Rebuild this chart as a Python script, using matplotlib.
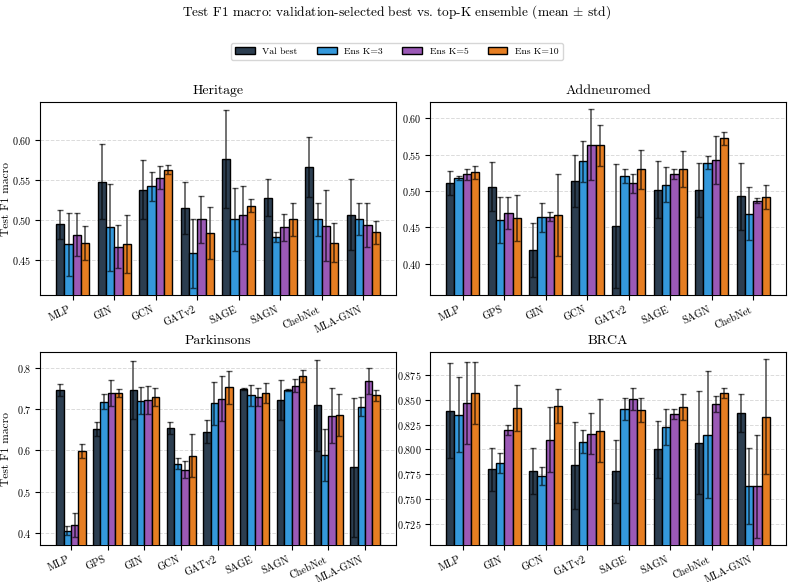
import matplotlib
matplotlib.use("Agg")
import matplotlib.pyplot as plt
import numpy as np

plt.rcParams['font.family'] = ['cmr10', 'DejaVu Serif']
plt.rcParams['mathtext.fontset'] = 'cm'
plt.rcParams['axes.formatter.use_mathtext'] = True

series = ["Val best", "Ens K=3", "Ens K=5", "Ens K=10"]
colors = ["#2c3e50", "#3498db", "#9b59b6", "#e67e22"]

# Heritage
her_models = ["MLP", "GIN", "GCN", "GATv2", "SAGE", "SAGN", "ChebNet", "MLA-GNN"]
her_mean = [
    [0.495, 0.548, 0.538, 0.515, 0.576, 0.528, 0.566, 0.507],
    [0.470, 0.491, 0.542, 0.459, 0.501, 0.479, 0.501, 0.502],
    [0.482, 0.467, 0.553, 0.501, 0.507, 0.491, 0.493, 0.494],
    [0.472, 0.470, 0.563, 0.484, 0.518, 0.501, 0.472, 0.485],
]
her_std = [
    [0.018, 0.047, 0.037, 0.032, 0.061, 0.023, 0.037, 0.044],
    [0.039, 0.054, 0.018, 0.043, 0.039, 0.006, 0.021, 0.020],
    [0.027, 0.027, 0.014, 0.029, 0.036, 0.017, 0.044, 0.027],
    [0.021, 0.036, 0.006, 0.032, 0.008, 0.021, 0.024, 0.014],
]

# Addneuromed
add_models = ["MLP", "GPS", "GIN", "GCN", "GATv2", "SAGE", "SAGN", "ChebNet"]
add_mean = [
    [0.511, 0.506, 0.419, 0.514, 0.452, 0.502, 0.501, 0.493],
    [0.518, 0.460, 0.464, 0.541, 0.521, 0.509, 0.539, 0.469],
    [0.523, 0.470, 0.465, 0.564, 0.511, 0.523, 0.543, 0.487],
    [0.526, 0.463, 0.467, 0.563, 0.530, 0.530, 0.573, 0.492],
]
add_std = [
    [0.016, 0.034, 0.037, 0.036, 0.085, 0.039, 0.037, 0.046],
    [0.003, 0.032, 0.020, 0.028, 0.010, 0.024, 0.009, 0.036],
    [0.008, 0.022, 0.006, 0.049, 0.013, 0.007, 0.033, 0.004],
    [0.009, 0.031, 0.056, 0.028, 0.027, 0.025, 0.009, 0.016],
]

# Parkinsons
par_models = ["MLP", "GPS", "GIN", "GCN", "GATv2", "SAGE", "SAGN", "ChebNet", "MLA-GNN"]
par_mean = [
    [0.747, 0.653, 0.747, 0.655, 0.646, 0.749, 0.723, 0.710, 0.559],
    [0.405, 0.719, 0.721, 0.568, 0.715, 0.734, 0.747, 0.588, 0.706],
    [0.419, 0.740, 0.723, 0.553, 0.726, 0.731, 0.758, 0.685, 0.769],
    [0.599, 0.739, 0.730, 0.587, 0.754, 0.739, 0.781, 0.686, 0.734],
]
par_std = [
    [0.014, 0.017, 0.070, 0.015, 0.027, 0.003, 0.048, 0.111, 0.169],
    [0.011, 0.019, 0.033, 0.014, 0.052, 0.026, 0.003, 0.063, 0.023],
    [0.030, 0.031, 0.035, 0.021, 0.055, 0.022, 0.015, 0.068, 0.032],
    [0.017, 0.010, 0.021, 0.052, 0.040, 0.024, 0.015, 0.052, 0.013],
]

# BRCA
brca_models = ["MLP", "GIN", "GCN", "GATv2", "SAGE", "SAGN", "ChebNet", "MLA-GNN"]
brca_mean = [
    [0.839, 0.780, 0.778, 0.784, 0.778, 0.800, 0.807, 0.837],
    [0.835, 0.786, 0.773, 0.808, 0.841, 0.823, 0.815, 0.763],
    [0.847, 0.820, 0.810, 0.816, 0.851, 0.836, 0.846, 0.763],
    [0.857, 0.842, 0.844, 0.819, 0.840, 0.843, 0.857, 0.833],
]
brca_std = [
    [0.048, 0.022, 0.023, 0.044, 0.032, 0.029, 0.052, 0.019],
    [0.038, 0.010, 0.009, 0.012, 0.011, 0.018, 0.064, 0.038],
    [0.041, 0.005, 0.033, 0.021, 0.011, 0.005, 0.008, 0.052],
    [0.031, 0.023, 0.017, 0.032, 0.012, 0.013, 0.005, 0.058],
]

panels = [
    ("Heritage", her_models, her_mean, her_std, (0.407, 0.647)),
    ("Addneuromed", add_models, add_mean, add_std, (0.357, 0.6226)),
    ("Parkinsons", par_models, par_mean, par_std, (0.370, 0.8395)),
    ("BRCA", brca_models, brca_mean, brca_std, (0.7043, 0.8977)),
]

fig = plt.figure(figsize=(7.94, 5.82), dpi=100)
W = 356 / 794
H = 193 / 582
positions = [
    (40 / 794, 1 - 295 / 582),
    (430 / 794, 1 - 295 / 582),
    (40 / 794, 1 - 545 / 582),
    (430 / 794, 1 - 545 / 582),
]

width = 0.2
handles = None
for idx, (name, models, means, stds, ylim) in enumerate(panels):
    ax = fig.add_axes([positions[idx][0], positions[idx][1], W, H])
    x = np.arange(len(models))
    hs = []
    for s in range(4):
        offs = (s - 1.5) * width
        b = ax.bar(x + offs, means[s], width, yerr=stds[s], color=colors[s],
                   edgecolor="black", linewidth=1.0, label=series[s], zorder=3,
                   error_kw=dict(ecolor="black", elinewidth=1.2, capsize=2.5,
                                 capthick=1.0, alpha=0.65, zorder=4))
        hs.append(b)
    handles = hs
    ax.set_ylim(*ylim)
    ax.set_xticks(x)
    ax.set_xticklabels(models, rotation=25, ha="right", fontsize=7.5)
    ax.tick_params(axis="y", labelsize=7.3, pad=2.5)
    ax.set_title(name, fontsize=10)
    ax.yaxis.grid(True, linestyle="--", color="#cccccc", alpha=0.7, linewidth=0.7, zorder=0)
    ax.set_axisbelow(True)
    if idx % 2 == 0:
        ax.set_ylabel("Test F1 macro", fontsize=8.3)
        ax.yaxis.set_label_coords(-29 / 356, 0.5)

fig.suptitle(r"Test F1 macro: validation-selected best vs. top-K ensemble (mean $\pm$ std)",
             fontsize=9.6, y=0.994)
fig.legend(handles, series, loc="center", bbox_to_anchor=(0.5, 0.912), ncol=4,
           fontsize=7, frameon=True, handlelength=2.0, columnspacing=2.0,
           handletextpad=0.8)

fig.savefig("out.png", dpi=100)
